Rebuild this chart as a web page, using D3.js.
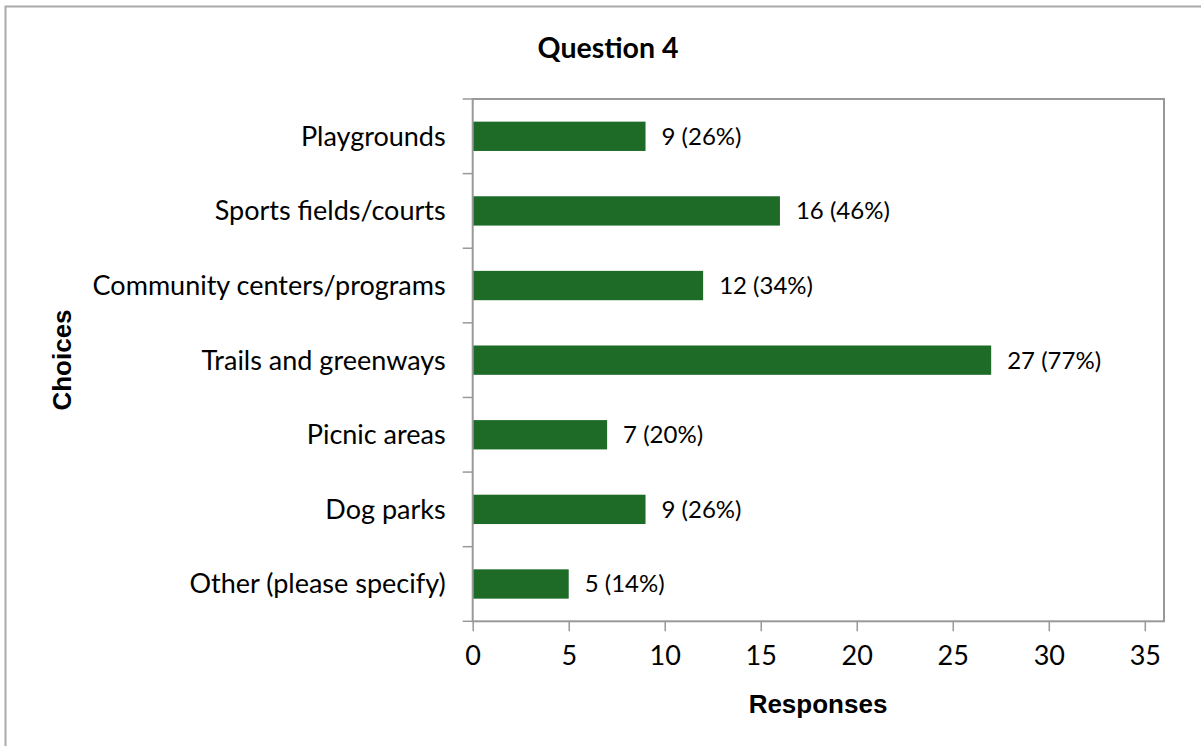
<!DOCTYPE html>
<html><head><meta charset="utf-8">
<script src="https://cdn.jsdelivr.net/npm/d3@7"></script>
<style>body{margin:0;background:#fff}svg{display:block}</style>
</head><body>
<script>
const categories = ["Playgrounds","Sports fields/courts","Community centers/programs","Trails and greenways","Picnic areas","Dog parks","Other (please specify)"];
const responses = [9,16,12,27,7,9,5];
const percents = [26,46,34,77,20,26,14];
const xTicks = [0,5,10,15,20,25,30,35];
const title = "Question 4", xTitle = "Responses", yTitle = "Choices";

const W=1201,H=746;
const FONT="Lato,'Open Sans',sans-serif";
const svg=d3.select("body").append("svg").attr("width",W).attr("height",H);
svg.append("rect").attr("x",5.5).attr("y",6.5).attr("width",W+10).attr("height",H+10).attr("fill","#fff").attr("stroke","#aaa").attr("stroke-width",2);

const L=472.7,R=1164,T=99,B=621.3;
const x=d3.scaleLinear().domain([0,36]).range([L,R]);
const y=d3.scaleBand().domain(categories).range([T,B]).paddingInner(0.607).paddingOuter(0.3035);
const axisCol="#999";

// bars
svg.append("g").selectAll("rect").data(categories).join("rect")
 .attr("x",x(0)).attr("y",d=>y(d)).attr("width",(d,i)=>x(responses[i])-x(0)).attr("height",y.bandwidth())
 .attr("fill","#1d6b27");

// frame
svg.append("rect").attr("x",L).attr("y",T).attr("width",R-L).attr("height",B-T).attr("fill","none").attr("stroke",axisCol).attr("stroke-width",2);

// x axis
const xa=svg.append("g").attr("transform",`translate(0,${B})`).call(d3.axisBottom(x).tickValues(xTicks).tickSize(10).tickPadding(15));
xa.select(".domain").remove();
xa.selectAll("line").attr("stroke",axisCol).attr("stroke-width",1.5);
xa.selectAll("text").attr("font-family",FONT).attr("font-size",27).attr("fill","#000");

// y axis ticks at band boundaries
const yb=d3.scaleLinear().domain([0,categories.length]).range([T,B]);
svg.append("g").selectAll("line").data(d3.range(categories.length+1)).join("line")
 .attr("x1",L-10).attr("x2",L).attr("y1",d=>yb(d)).attr("y2",d=>yb(d)).attr("stroke",axisCol).attr("stroke-width",1.5);

svg.append("g").selectAll("text").data(categories).join("text")
 .attr("x",L-27).attr("y",d=>y(d)+y.bandwidth()/2).attr("dy","0.35em").attr("text-anchor","end")
 .attr("font-family",FONT).attr("font-size",27).attr("fill","#000").text(d=>d);

// data labels
svg.append("g").selectAll("text").data(categories).join("text")
 .attr("x",(d,i)=>x(responses[i])+16).attr("y",d=>y(d)+y.bandwidth()/2).attr("dy","0.35em")
 .attr("font-family",FONT).attr("font-size",24).attr("fill","#000")
 .text((d,i)=>`${responses[i]} (${percents[i]}%)`);

svg.append("text").attr("x",608).attr("y",58).attr("text-anchor","middle").attr("font-family",FONT).attr("font-weight","bold").attr("font-size",28.5).text(title);
svg.append("text").attr("x",818).attr("y",713).attr("text-anchor","middle").attr("font-family","'Liberation Sans',Arial,sans-serif").attr("font-weight","bold").attr("font-size",26).text(xTitle);
svg.append("text").attr("transform","translate(71,360) rotate(-90)").attr("text-anchor","middle").attr("font-family","'Liberation Sans',Arial,sans-serif").attr("font-weight","bold").attr("font-size",26).text(yTitle);
</script>
</body></html>
